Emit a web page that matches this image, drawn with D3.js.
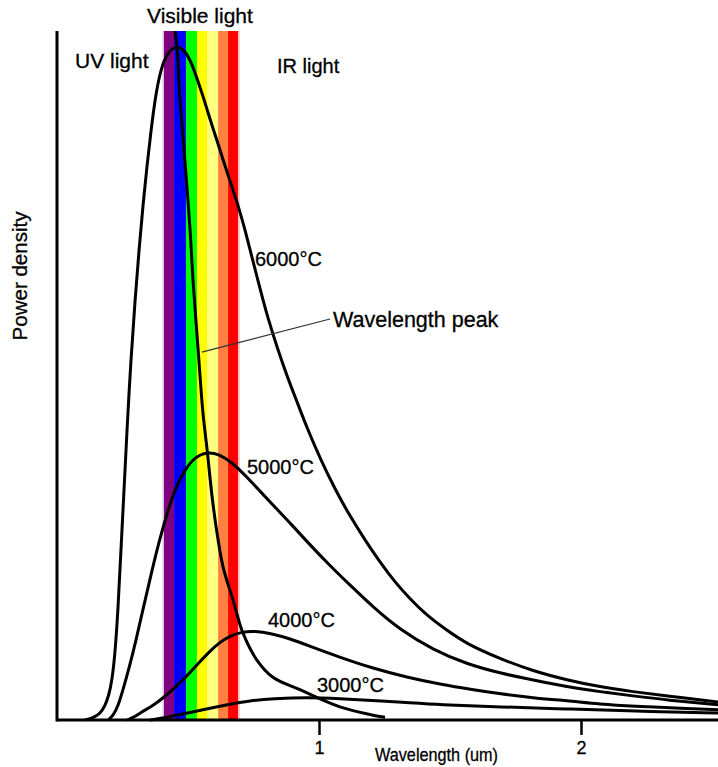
<!DOCTYPE html>
<html><head><meta charset="utf-8">
<script src="https://cdn.jsdelivr.net/npm/d3@7/dist/d3.min.js"></script>
<style>
body{margin:0;background:#fff}
text{font-family:"Liberation Sans",Arial,sans-serif;fill:#000;stroke:#000;stroke-width:0.3px}
</style>
</head><body>
<svg id="c" width="718" height="767"></svg>
<script>
// ---- data (wavelength in µm, power density in arbitrary units) ----
const xTickValues = [1, 2];
const xTickLabels = ["1", "2"];
const bandEdges = [0.408, 0.447, 0.492, 0.534, 0.573, 0.615, 0.653, 0.691];
const bandColors = ["#800080", "#0000ff", "#00ff00", "#ffff00", "#ffff80", "#ff8040", "#ff0000"];
const seriesNames = ["6000°C", "5000°C", "4000°C", "3000°C"];
const curve6000 = [[0.107,0],[0.137,0.3],[0.164,0.9],[0.183,2.0],[0.198,3.6],[0.210,5.8],[0.221,9.4],[0.233,16.0],[0.244,24.7],[0.256,33.4],[0.267,42.1],[0.282,52.3],[0.298,61.0],[0.313,68.2],[0.328,74.7],[0.344,80.6],[0.359,85.6],[0.374,90.0],[0.389,93.2],[0.408,95.8],[0.431,97.2],[0.454,97.8],[0.481,97.4],[0.500,96.4],[0.519,94.8],[0.538,92.7],[0.557,90.6],[0.576,88.2],[0.595,85.9],[0.615,83.6],[0.634,81.3],[0.653,79.1],[0.672,76.9],[0.691,74.7],[0.718,71.1],[0.744,67.2],[0.775,62.6],[0.805,58.3],[0.840,54.1],[0.878,49.9],[0.916,46.2],[0.954,42.4],[1.004,38.0],[1.061,33.5],[1.118,29.6],[1.176,26.1],[1.233,22.9],[1.290,20.0],[1.347,17.6],[1.405,15.4],[1.481,13.2],[1.565,11.0],[1.691,8.9],[1.817,7.1],[1.947,5.8],[2.073,4.8],[2.198,4.1],[2.328,3.5],[2.523,2.6]];
const curve5000 = [[0.195,0],[0.214,0.6],[0.233,2.0],[0.252,4.4],[0.275,7.5],[0.302,11.6],[0.332,16.7],[0.363,21.8],[0.393,26.4],[0.424,30.5],[0.454,33.8],[0.489,36.4],[0.527,38.2],[0.573,38.9],[0.618,38.6],[0.668,37.4],[0.721,35.4],[0.775,33.2],[0.832,30.9],[0.897,28.3],[0.966,25.4],[1.042,22.4],[1.118,19.6],[1.206,16.4],[1.309,13.1],[1.435,10.2],[1.565,8.1],[1.691,6.8],[1.817,5.8],[1.947,4.8],[2.073,4.1],[2.198,3.5],[2.328,2.9],[2.523,2.2]];
const curve4000 = [[0.267,0],[0.294,0.4],[0.324,1.2],[0.363,2.0],[0.405,3.2],[0.447,4.6],[0.492,6.2],[0.534,8.0],[0.576,9.7],[0.618,11.2],[0.660,12.2],[0.706,12.8],[0.756,12.9],[0.813,12.6],[0.889,11.8],[0.966,10.7],[1.080,9.1],[1.206,7.5],[1.336,6.2],[1.462,5.2],[1.588,4.4],[1.691,3.8],[1.817,3.2],[1.947,2.8],[2.073,2.3],[2.198,2.0],[2.389,1.7],[2.523,1.5]];
const curve3000 = [[0.355,0],[0.412,0.3],[0.481,0.9],[0.573,1.6],[0.649,2.2],[0.737,2.8],[0.824,3.1],[0.954,3.3],[1.080,3.1],[1.206,2.8],[1.309,2.6],[1.462,2.2],[1.691,1.9],[1.947,1.6],[2.198,1.3],[2.523,1.0]];
const peakLocus = [[0.450,100.0],[0.458,97.7],[0.469,90.4],[0.489,80.8],[0.508,71.1],[0.519,63.9],[0.538,54.1],[0.557,44.6],[0.573,39.2],[0.592,32.4],[0.611,27.1],[0.634,22.2],[0.672,17.4],[0.710,12.6],[0.763,8.7],[0.824,6.2],[0.927,4.4],[1.080,1.9],[1.206,0.7],[1.252,0.4]];
const peakPointer = [[0.553,53.4],[1.042,58.2]];

// ---- drawing ----
const svg = d3.select("#c");
const x = d3.scaleLinear().domain([0, 2.5]).range([57, 712]);
const y = d3.scaleLinear().domain([0, 100]).range([720, 31]);

// visible band
const bands = bandColors.map((c, i) => ({c, a: bandEdges[i], b: bandEdges[i + 1]}));
svg.append("g").selectAll("rect").data(bands).join("rect")
  .attr("x", d => x(d.a)).attr("width", d => x(d.b) - x(d.a) + 0.3)
  .attr("y", y(100)).attr("height", y(0) - y(100))
  .attr("fill", d => d.c);
svg.append("rect").attr("x", x(bandEdges[0]) - 1.5).attr("width", 1.5)
  .attr("y", y(100)).attr("height", y(0) - y(100)).attr("fill", "#e6bfe6");
svg.append("rect").attr("x", x(bandEdges[bandEdges.length - 1])).attr("width", 2)
  .attr("y", y(100)).attr("height", y(0) - y(100)).attr("fill", "#ffc8c8");

const line = d3.line().x(d => x(d[0])).y(d => y(d[1])).curve(d3.curveBasis);
const lineFree = d3.line().x(d => x(d[0])).y(d => y(d[1])).curve(d3.curveCatmullRom.alpha(0.5));

const curves = [curve6000, curve5000, curve4000, curve3000];
svg.append("g").selectAll("path").data(curves).join("path")
  .attr("d", line).attr("fill", "none").attr("stroke", "#000")
  .attr("stroke-width", 3).attr("stroke-linejoin", "round");

svg.append("path").attr("d", lineFree(peakLocus)).attr("fill", "none")
  .attr("stroke", "#000").attr("stroke-width", 3);

svg.append("line")
  .attr("x1", x(peakPointer[0][0])).attr("y1", y(peakPointer[0][1]))
  .attr("x2", x(peakPointer[1][0])).attr("y2", y(peakPointer[1][1]))
  .attr("stroke", "#333").attr("stroke-width", 1.2);

// axes
const xAxis = d3.axisBottom(x).tickValues(xTickValues).tickFormat((d, i) => xTickLabels[i])
  .tickSize(15).tickPadding(6);
const gx = svg.append("g").attr("transform", `translate(0,${y(0)})`).call(xAxis);
gx.select(".domain").remove();
gx.selectAll(".tick line").attr("stroke", "#000").attr("stroke-width", 2.5);
gx.selectAll(".tick text").attr("font-size", 18).attr("font-family", '"Liberation Sans",Arial,sans-serif').attr("fill", "#000");

svg.append("line").attr("x1", x(0)).attr("x2", 718).attr("y1", y(0)).attr("y2", y(0))
  .attr("stroke", "#000").attr("stroke-width", 3);
svg.append("line").attr("x1", x(0)).attr("x2", x(0)).attr("y1", y(0) + 1.5).attr("y2", y(100))
  .attr("stroke", "#000").attr("stroke-width", 3);

// labels
svg.append("text").attr("x", 147).attr("y", 23).attr("font-size", 21).text("Visible light");
svg.append("text").attr("x", 75).attr("y", 68).attr("font-size", 21).text("UV light");
svg.append("text").attr("x", 277).attr("y", 73).attr("font-size", 20).text("IR light");
svg.append("text").attr("x", 255).attr("y", 266).attr("font-size", 20).text(seriesNames[0]);
svg.append("text").attr("x", 247).attr("y", 474).attr("font-size", 20).text(seriesNames[1]);
svg.append("text").attr("x", 268).attr("y", 627).attr("font-size", 20).text(seriesNames[2]);
svg.append("text").attr("x", 317).attr("y", 692).attr("font-size", 20).text(seriesNames[3]);
svg.append("text").attr("x", 333).attr("y", 327).attr("font-size", 21.5).text("Wavelength peak");
svg.append("text").attr("transform", "translate(27,276) rotate(-90)").attr("text-anchor", "middle")
  .attr("font-size", 20.5).text("Power density");
svg.append("text").attr("x", 375).attr("y", 761).attr("font-size", 19)
  .attr("textLength", 123).attr("lengthAdjust", "spacingAndGlyphs").text("Wavelength (um)");
</script>
</body></html>
